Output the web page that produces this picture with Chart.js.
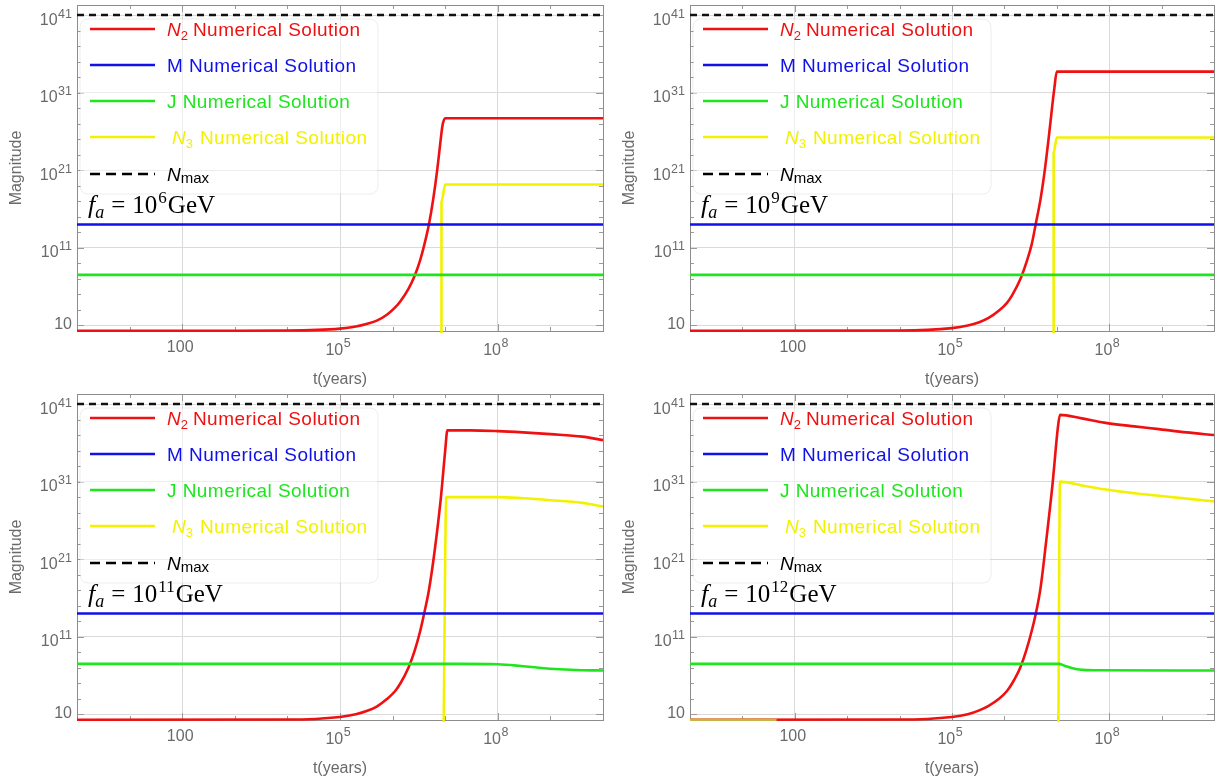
<!DOCTYPE html>
<html><head><meta charset="utf-8">
<script src="https://cdn.jsdelivr.net/npm/chart.js@4.4.1/dist/chart.umd.min.js"></script>
<style>
html,body{margin:0;padding:0;background:#fff;}
body{width:1229px;height:780px;overflow:hidden;position:relative;}
canvas{position:absolute;}
</style></head>
<body>
<canvas id="c0" width="614" height="389" style="left:0;top:0"></canvas>
<canvas id="c1" width="615" height="389" style="left:614px;top:0"></canvas>
<canvas id="c2" width="614" height="389" style="left:0;top:389px"></canvas>
<canvas id="c3" width="615" height="389" style="left:614px;top:389px"></canvas>
<script>
// ---------------- axes / ticks ----------------
const xRange = [1, 1e10];
const yRange = [1.84, 1.95e42];
const xTickValues = [1, 10, 100, 1e3, 1e4, 1e5, 1e6, 1e7, 1e8, 1e9, 1e10];
const xLabelValues = [100, 1e5, 1e8];
const xLabelBase = ['100', '10', '10'];
const xLabelExp  = ['', '5', '8'];
const yTickValues = [1e1,1e3,1e5,1e7,1e9,1e11,1e13,1e15,1e17,1e19,1e21,1e23,1e25,1e27,1e29,1e31,1e33,1e35,1e37,1e39,1e41];
const yLabelValues = [1e1, 1e11, 1e21, 1e31, 1e41];
const yLabelBase = ['10', '10', '10', '10', '10'];
const yLabelExp  = ['', '11', '21', '31', '41'];
const xTitle = 't(years)';
const yTitle = 'Magnitude';
const faExponents = ['6', '9', '11', '12'];

// ---------------- series (t in years, magnitude) ----------------
const M_line = [[1, 1e14], [1e10, 1e14]];
const Nmax_line = [[1, 1e41], [1e10, 1e41]];

// f_a = 10^6 GeV
const p1_N2 = [[1,2.0],[1e3,2.0],[1e4,2.1],[1e5,3.7],[2e5,7.0],[3.3e5,16],[5e5,40],[7.9e5,250],[1.12e6,2.0e3],[1.41e6,1.26e4],[2.0e6,5.0e5],[2.63e6,2.5e7],[3.31e6,2.0e9],[3.98e6,2.0e11],[4.9e6,1.0e14],[5.9e6,1.6e17],[7.1e6,1.6e21],[8.1e6,4.0e24],[8.9e6,6.3e26],[1.0e7,5.0e27],[1e10,5.0e27]];
const p1_J  = [[1,3.2e7],[1e10,3.2e7]];
const p1_N3 = [[8.5e6,0.01],[8.5e6,7.9e16],[1.0e7,1.4e19],[1e10,1.4e19]];

// f_a = 10^9 GeV
const p2_N2 = [[1,2.0],[1e4,2.1],[1e5,4.3],[2e5,9.3],[3.3e5,25],[5e5,89],[7.9e5,790],[1.12e6,7.9e3],[1.41e6,7.9e4],[2.0e6,7.9e6],[2.63e6,1.3e9],[3.31e6,2.5e11],[3.98e6,1.3e14],[4.9e6,2.0e17],[5.9e6,1.0e21],[7.1e6,3.2e25],[8.1e6,1.0e29],[9.0e6,4.0e31],[1.0e7,5.0e33],[1e10,5.0e33]];
const p2_J  = [[1,3.2e7],[1e10,3.2e7]];
const p2_N3 = [[8.7e6,0.01],[8.7e6,1.6e23],[1.0e7,1.6e25],[1e10,1.6e25]];

// f_a = 10^11 GeV
const p3_N2 = [[1,2.0],[1e4,2.1],[1e5,4.5],[2e5,10],[3.3e5,28],[5e5,100],[7.9e5,1.0e3],[1.12e6,1.0e4],[1.41e6,1.0e5],[2.0e6,1.0e7],[2.63e6,1.6e9],[3.31e6,4.0e11],[3.98e6,1.0e14],[4.9e6,1.0e17],[6.17e6,4.0e21],[8.3e6,1.0e29],[1.0e7,1.0e35],[1.1e7,4.0e37],[3e7,4.0e37],[1e8,3.2e37],[3e8,2.2e37],[1e9,1.3e37],[4e9,6.3e36],[1e10,2.2e36]];
const p3_J  = [[1,3.2e7],[2e7,3.2e7],[1e8,2.8e7],[2.5e8,1.8e7],[6e8,1.0e7],[1.5e9,6.3e6],[4e9,4.8e6],[1e10,4.5e6]];
const p3_N3 = [[9.3e6,0.01],[1.05e7,1.0e29],[1e8,1.0e29],[3e8,7.1e28],[1e9,4.0e28],[4e9,1.8e28],[1e10,6.3e27]];

// f_a = 10^12 GeV
const p4_N2 = [[1,2.0],[1e4,2.1],[1e5,4.5],[2e5,10],[3.3e5,32],[5e5,126],[7.9e5,1.0e3],[1.12e6,1.0e4],[1.41e6,1.0e5],[2.0e6,1.0e7],[2.63e6,2.0e9],[3.31e6,5.0e11],[3.98e6,1.0e14],[4.9e6,2.0e17],[6.17e6,7.9e22],[8.3e6,5.0e30],[1.05e7,1.0e38],[1.15e7,4.0e39],[3e7,1.4e39],[8e7,4.0e38],[3e8,1.3e38],[8e8,6.3e37],[3e9,2.2e37],[1e10,1.0e37]];
const p4_J  = [[1,3.2e7],[1.1e7,3.2e7],[1.4e7,1.8e7],[2e7,8.9e6],[3e7,5.6e6],[5e7,4.8e6],[1e10,4.5e6]];
const p4_N3 = [[1,2.0],[45,2.0],[46,null],[1.07e7,0.01],[1.15e7,1.0e31],[3e7,3.2e30],[8e7,1.0e30],[3e8,3.2e29],[8e8,1.6e29],[3e9,6.3e28],[1e10,2.8e28]];

const panels = [
  {N2: p1_N2, J: p1_J, N3: p1_N3},
  {N2: p2_N2, J: p2_J, N3: p2_N3},
  {N2: p3_N2, J: p3_J, N3: p3_N3},
  {N2: p4_N2, J: p4_J, N3: p4_N3}
];

// ---------------- styles ----------------
const RED = '#ef1111', BLUE = '#1010e8', GREEN = '#1de61d', YELLOW = '#f2f200', OLIVE = '#c9b347';
const SANS = '"Liberation Sans", Arial, sans-serif';
const SERIF = '"Liberation Serif", "Times New Roman", serif';
const TICKCOL = '#6a6a6a';

const toXY = arr => arr.map(p => ({x: p[0], y: p[1]}));
const near = (a, b) => Math.abs(Math.log10(a) - Math.log10(b)) < 1e-6;

function drawParts(ctx, x, y, parts) {
  let cx = x;
  for (const p of parts) {
    ctx.font = p.font;
    ctx.fillStyle = p.color;
    ctx.letterSpacing = p.ls || '0px';
    if (p.at !== undefined) cx = x + p.at;
    ctx.fillText(p.t, cx, y + (p.dy || 0));
    cx += ctx.measureText(p.t).width + (p.gap || 0);
  }
  ctx.letterSpacing = '0px';
}

const framePlugin = {
  id: 'frame',
  beforeDatasetsDraw(chart) {
    const {ctx, chartArea: a, scales: {x, y}} = chart;
    ctx.save();
    ctx.strokeStyle = '#9a9a9a';
    ctx.lineWidth = 1;
    ctx.beginPath();
    xTickValues.forEach(v => {
      const px = Math.round(x.getPixelForValue(v)) + 0.5;
      const len = xLabelValues.some(l => near(l, v)) ? 7 : 4;
      ctx.moveTo(px, a.bottom); ctx.lineTo(px, a.bottom - len);
      ctx.moveTo(px, a.top); ctx.lineTo(px, a.top + len);
    });
    yTickValues.forEach(v => {
      const py = Math.round(y.getPixelForValue(v)) + 0.5;
      const len = yLabelValues.some(l => near(l, v)) ? 7 : 4;
      ctx.moveTo(a.left, py); ctx.lineTo(a.left + len, py);
      ctx.moveTo(a.right, py); ctx.lineTo(a.right - len, py);
    });
    ctx.stroke();
    ctx.strokeStyle = '#8c8c8c';
    ctx.strokeRect(Math.round(a.left) + 0.5, Math.round(a.top) + 0.5, Math.round(a.right - a.left), Math.round(a.bottom - a.top));
    ctx.restore();
  }
};

// tick labels with real superscripts, placed through the chart's scales
const tickLabelPlugin = {
  id: 'ticklabels',
  afterDraw(chart) {
    const {ctx, chartArea: a, scales: {x, y}} = chart;
    ctx.save();
    ctx.fillStyle = TICKCOL;
    ctx.textBaseline = 'alphabetic';
    ctx.textAlign = 'left';
    const baseFont = '16px ' + SANS, supFont = '12.5px ' + SANS;
    yLabelValues.forEach((v, i) => {
      const py = y.getPixelForValue(v);
      ctx.font = baseFont; const w1 = ctx.measureText(yLabelBase[i]).width;
      ctx.font = supFont; const w2 = yLabelExp[i] ? ctx.measureText(yLabelExp[i]).width + 0.5 : 0;
      const x0 = a.left - 5 - w1 - w2;
      ctx.font = baseFont;
      ctx.fillText(yLabelBase[i], x0, py + (yLabelExp[i] ? 9.5 : 4));
      if (yLabelExp[i]) { ctx.font = supFont; ctx.fillText(yLabelExp[i], x0 + w1 + 0.5, py + 2.5); }
    });
    xLabelValues.forEach((v, i) => {
      const px = x.getPixelForValue(v) - 2;
      ctx.font = baseFont; const w1 = ctx.measureText(xLabelBase[i]).width;
      ctx.font = supFont; const w2 = xLabelExp[i] ? ctx.measureText(xLabelExp[i]).width + 0.5 : 0;
      const x0 = px - (w1 + w2) / 2;
      ctx.font = baseFont;
      ctx.fillText(xLabelBase[i], x0, a.bottom + (xLabelExp[i] ? 24 : 21));
      if (xLabelExp[i]) { ctx.font = supFont; ctx.fillText(xLabelExp[i], x0 + w1 + 0.5, a.bottom + 16); }
    });
    ctx.restore();
  }
};

function legendPlugin(faExp) {
  return {
    id: 'lg',
    afterDatasetsDraw(chart) {
      const {ctx, chartArea: {left: L, top: T}} = chart;
      ctx.save();
      ctx.beginPath();
      ctx.roundRect(L + 3, T + 14, 298, 175, 8);
      ctx.fillStyle = 'rgba(255,255,255,0.5)';
      ctx.fill();
      ctx.strokeStyle = 'rgba(0,0,0,0.07)';
      ctx.lineWidth = 1;
      ctx.stroke();

      const rows = [
        {c: RED, dash: [], parts: [
          {t: 'N', font: 'italic 19px ' + SANS, color: RED},
          {t: '2', font: '13px ' + SANS, color: RED, dy: 4, gap: 5},
          {t: 'Numerical Solution', font: '19px ' + SANS, color: RED, ls: '0.45px'}]},
        {c: BLUE, dash: [], parts: [
          {t: 'M Numerical Solution', font: '19px ' + SANS, color: BLUE, ls: '0.45px'}]},
        {c: GREEN, dash: [], parts: [
          {t: 'J Numerical Solution', font: '19px ' + SANS, color: GREEN, ls: '0.45px'}]},
        {c: YELLOW, dash: [], parts: [
          {t: 'N', font: 'italic 19px ' + SANS, color: YELLOW, at: 5},
          {t: '3', font: '13px ' + SANS, color: YELLOW, dy: 4, gap: 7},
          {t: 'Numerical Solution', font: '19px ' + SANS, color: YELLOW, ls: '0.45px'}]},
        {c: '#000', dash: [10, 6], parts: [
          {t: 'N', font: 'italic 19px ' + SANS, color: '#000'},
          {t: 'max', font: '15px ' + SANS, color: '#000', dy: 2}]}
      ];
      const rowY = [24, 60, 96, 132, 169];
      rows.forEach((r, i) => {
        const yy = T + rowY[i];
        ctx.beginPath();
        ctx.setLineDash(r.dash);
        ctx.strokeStyle = r.c;
        ctx.lineWidth = 2.6;
        ctx.moveTo(L + 13, yy); ctx.lineTo(L + 78, yy);
        ctx.stroke();
        ctx.setLineDash([]);
        ctx.textBaseline = 'alphabetic';
        ctx.textAlign = 'left';
        drawParts(ctx, L + 90, yy + 7, r.parts);
      });

      // f_a label
      const by = T + 208;
      drawParts(ctx, L + 11, by, [
        {t: 'f', font: 'italic 26px ' + SERIF, color: '#000'},
        {t: 'a', font: 'italic 18px ' + SERIF, color: '#000', dy: 5, gap: 7},
        {t: '=', font: '25px ' + SERIF, color: '#000', gap: 7},
        {t: '10', font: '25px ' + SERIF, color: '#000', gap: 1},
        {t: faExp, font: '17px ' + SERIF, color: '#000', dy: -10, gap: 1},
        {t: 'GeV', font: '25px ' + SERIF, color: '#000'}
      ]);
      ctx.restore();
    }
  };
}

function makeChart(id, p, faExp, isRight) {
  const ds = (label, arr, color, order, extra) => Object.assign({
    label, data: toXY(arr), borderColor: color, borderWidth: 2.6, order,
    pointRadius: 0, fill: false, cubicInterpolationMode: 'monotone',
    clip: {left: 0, right: 0, top: 0, bottom: 2}, spanGaps: false
  }, extra || {});
  const datasets = [
    ds('N2 Numerical Solution', p.N2, RED, 3),
    ds('M Numerical Solution', M_line, BLUE, 0),
    ds('J Numerical Solution', p.J, GREEN, 1),
    ds('N3 Numerical Solution', p.N3, YELLOW, 2, {
      segment: {borderColor: c => (c.p1.parsed.x <= 45 ? OLIVE : undefined)}
    }),
    ds('Nmax', Nmax_line, '#111', 4, {borderDash: [7, 5], borderWidth: 2.4})
  ];
  const zeroPad = s => { s.paddingTop = 0; s.paddingBottom = 0; s.paddingLeft = 0; s.paddingRight = 0; };
  return new Chart(document.getElementById(id), {
    type: 'line',
    data: {datasets},
    options: {
      responsive: false, animation: false, devicePixelRatio: 1,
      layout: {padding: {left: 0, right: isRight ? 15 : 11, top: 5, bottom: 0}},
      plugins: {legend: {display: false}, tooltip: {enabled: false}},
      scales: {
        x: {
          type: 'logarithmic', min: xRange[0], max: xRange[1],
          afterBuildTicks: s => { s.ticks = xTickValues.map(v => ({value: v})); },
          afterFit: s => { s.height = 58; zeroPad(s); },
          border: {display: false},
          grid: {
            drawTicks: false,
            color: c => (c.tick && xLabelValues.some(l => near(l, c.tick.value)) ? '#dadada' : 'rgba(0,0,0,0)'),
            lineWidth: 1
          },
          ticks: {display: false},
          title: {display: true, text: xTitle, color: TICKCOL, font: {family: SANS, size: 16}, padding: {top: 0, bottom: 0}}
        },
        y: {
          type: 'logarithmic', min: yRange[0], max: yRange[1],
          afterBuildTicks: s => { s.ticks = yTickValues.map(v => ({value: v})); },
          afterFit: s => { s.width = isRight ? 76 : 77; zeroPad(s); },
          border: {display: false},
          grid: {
            drawTicks: false,
            color: c => (c.tick && yLabelValues.some(l => near(l, c.tick.value)) ? '#dadada' : 'rgba(0,0,0,0)'),
            lineWidth: 1
          },
          ticks: {display: false},
          title: {display: true, text: yTitle, color: TICKCOL, font: {family: SANS, size: 16}, padding: {top: isRight ? 6 : 7, bottom: 0}}
        }
      }
    },
    plugins: [framePlugin, tickLabelPlugin, legendPlugin(faExp)]
  });
}

panels.forEach((p, i) => makeChart('c' + i, p, faExponents[i], i % 2 === 1));
</script>
</body></html>
